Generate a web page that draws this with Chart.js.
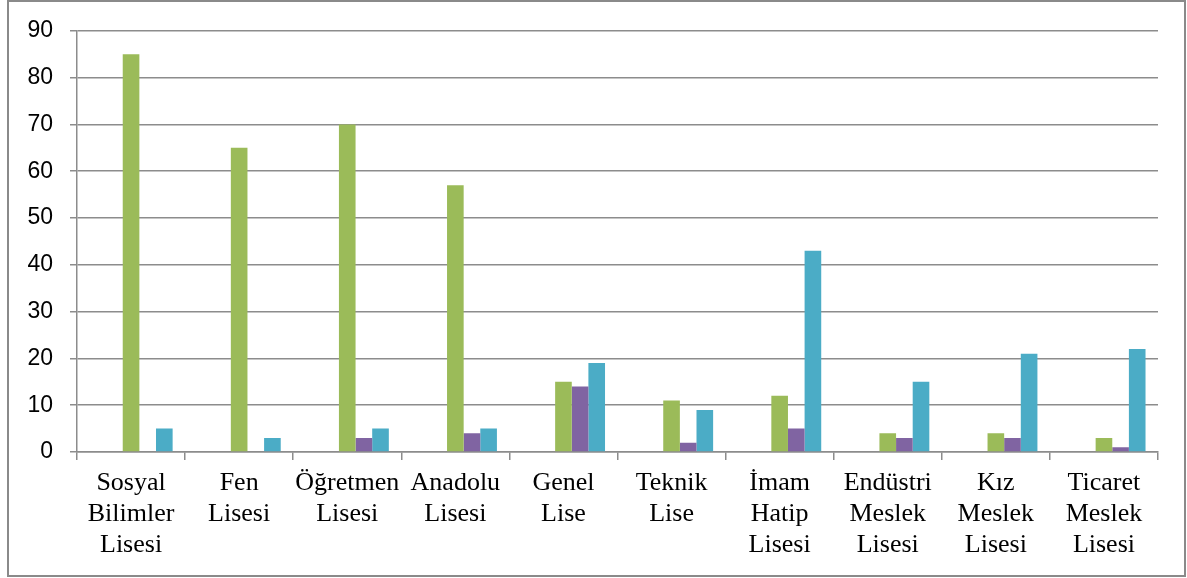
<!DOCTYPE html>
<html>
<head>
<meta charset="utf-8">
<script src="https://cdn.jsdelivr.net/npm/chart.js@4"></script>
<style>
  html, body { margin: 0; padding: 0; background: #fff; }
  #wrap { width: 1187px; height: 578px; position: relative; }
</style>
</head>
<body>
<div id="wrap"><canvas id="lise"></canvas></div>
<script>
const categories = [
    ['Sosyal', 'Bilimler', 'Lisesi'],
    ['Fen', 'Lisesi'],
    ['Öğretmen', 'Lisesi'],
    ['Anadolu', 'Lisesi'],
    ['Genel', 'Lise'],
    ['Teknik', 'Lise'],
    ['İmam', 'Hatip', 'Lisesi'],
    ['Endüstri', 'Meslek', 'Lisesi'],
    ['Kız', 'Meslek', 'Lisesi'],
    ['Ticaret', 'Meslek', 'Lisesi']
];
// first two series are empty in the picture (they only take up space)
const series1 = [0, 0, 0, 0, 0, 0, 0, 0, 0, 0];
const series2 = [0, 0, 0, 0, 0, 0, 0, 0, 0, 0];
const series3 = [85, 65, 70, 57, 15, 11, 12, 4, 4, 3];
const series4 = [0, 0, 3, 4, 14, 2, 5, 3, 3, 1];
const series5 = [5, 3, 5, 5, 19, 9, 43, 15, 21, 22];
const yTicks = [0, 10, 20, 30, 40, 50, 60, 70, 80, 90];

const gridGray = '#8c8c8c';

const framePlugin = {
    id: 'frame',
    afterDraw(chart) {
        const c = chart.ctx;
        c.save();
        c.strokeStyle = '#8a8a8a';
        c.lineWidth = 2;
        c.strokeRect(8, 1, 1177, 575);
        c.restore();
    }
};

function bar(label, data, color) {
    return {
        label: label,
        data: data,
        backgroundColor: color,
        borderWidth: 0,
        categoryPercentage: 5 / 6.5,
        barPercentage: 1
    };
}

const ctx = document.getElementById('lise').getContext('2d');
const chart = new Chart(ctx, {
    type: 'bar',
    data: {
        labels: categories,
        datasets: [
            bar('Seri 1', series1, '#4F81BD'),
            bar('Seri 2', series2, '#C0504D'),
            bar('Seri 3', series3, '#9BBB59'),
            bar('Seri 4', series4, '#8064A2'),
            bar('Seri 5', series5, '#4BACC6')
        ]
    },
    options: {
        responsive: true,
        maintainAspectRatio: false,
        animation: false,
        layout: { padding: { left: 0, right: 29, top: 29, bottom: 0 } },
        scales: {
            y: {
                min: 0,
                max: 90,
                afterFit: s => { s.width = 77; },
                afterBuildTicks: s => { s.ticks = yTicks.map(v => ({ value: v })); },
                grid: { color: gridGray, lineWidth: 1.5, tickLength: 7 },
                border: { color: gridGray, width: 1.5 },
                ticks: {
                    padding: 17,
                    color: '#000',
                    font: { family: 'Liberation Sans, Arial, sans-serif', size: 23 }
                }
            },
            x: {
                afterFit: s => { s.height = 126; },
                grid: { offset: true, drawOnChartArea: false, color: gridGray, lineWidth: 1.5, tickLength: 8 },
                border: { color: gridGray, width: 1.5 },
                ticks: {
                    maxRotation: 0,
                    autoSkip: false,
                    padding: 8,
                    color: '#000',
                    font: { family: 'Liberation Serif, Times New Roman, serif', size: 26, lineHeight: 1.19 }
                }
            }
        },
        plugins: {
            legend: { display: false },
            tooltip: { enabled: false }
        }
    },
    plugins: [framePlugin]
});
</script>
</body>
</html>
